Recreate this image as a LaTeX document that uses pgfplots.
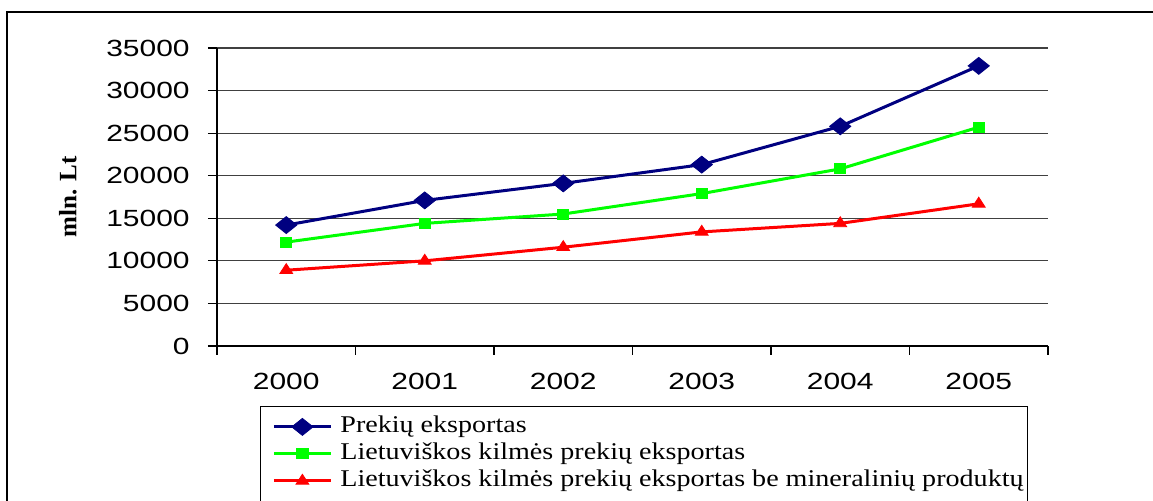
\documentclass[border=0pt]{standalone}
\usepackage{fontspec}
\usepackage{pgfplots}
\pgfplotsset{compat=1.18}
\setmainfont{Liberation Serif}[FakeStretch=1.17]
\newfontfamily\arialS{Liberation Sans}[FakeStretch=1.28]
\newfontfamily\timesU{Liberation Serif}
\definecolor{navyc}{RGB}{0,0,128}
\definecolor{greenc}{RGB}{0,255,0}
\definecolor{redc}{RGB}{255,0,0}
\begin{document}
\begin{tikzpicture}
\useasboundingbox (0pt,0pt) rectangle (576.5pt,250.5pt);
\begin{scope}
\clip (0pt,0pt) rectangle (576.5pt,250.5pt);
\begin{axis}[
  at={(108.5pt,77.5pt)}, anchor=south west,
  scale only axis, width=415.5pt, height=149pt,
  xmin=-0.5, xmax=5.5, ymin=0, ymax=35000,
  axis x line=bottom, axis y line=left,
  axis line style={-, line width=0.6pt, black},
  xtick={-0.5,0.5,1.5,2.5,3.5,4.5,5.5}, xticklabels={},
  extra x ticks={0,1,2,3,4,5},
  extra x tick labels={2000,2001,2002,2003,2004,2005},
  extra x tick style={tick style={draw=none}},
  ytick={0,5000,10000,15000,20000,25000,30000,35000},
  yticklabels={0,5000,10000,15000,20000,25000,30000,35000},
  scaled y ticks=false,
  tick align=outside, major tick length=4.5pt,
  tick style={black, line width=0.6pt},
  ymajorgrids, grid style={black!75, line width=0.6pt},
  ticklabel style={font=\arialS\fontsize{11.7}{14}\selectfont},
  xticklabel style={inner sep=0pt, anchor=north, yshift=-9pt},
  yticklabel style={inner sep=0pt, anchor=east, xshift=-9pt},
  ylabel={mln. Lt},
  ylabel style={at={(axis description cs:-0.1793,0.5)}, anchor=center, rotate=0, font=\timesU\bfseries\fontsize{12.5}{14}\selectfont},
  legend style={at={(axis description cs:0.05174,-0.2047)}, anchor=north west,
    draw=none, fill=none, inner xsep=6pt, inner ysep=3pt,
    font=\fontsize{12}{14}\selectfont, row sep=0pt, column sep=4pt,
    nodes={inner sep=0pt, text height=9.5pt, text depth=4pt}},
  legend cell align=left,
  legend image code/.code={\draw[mark repeat=2,mark phase=2] plot coordinates {(0pt,0pt)(14.25pt,0pt)(28.5pt,0pt)};},
]
\addplot[color=navyc, line width=1.5pt, mark=square*, mark size=3pt,
  mark options={xscale=1.25, rotate=45, line width=0.4pt, fill=navyc}]
  coordinates {(0,14200)(1,17100)(2,19100)(3,21300)(4,25800)(5,32900)};
\addlegendentry{Prekių eksportas}
\addplot[color=greenc, line width=1.5pt, mark=square*, mark size=2.5pt,
  mark options={xscale=1.12, line width=0.4pt, fill=greenc}]
  coordinates {(0,12200)(1,14400)(2,15500)(3,17900)(4,20800)(5,25700)};
\addlegendentry{Lietuviškos kilmės prekių eksportas}
\addplot[color=redc, line width=1.5pt, mark=triangle*, mark size=3.3pt,
  mark options={xscale=1.12, line width=0.4pt, fill=redc}]
  coordinates {(0,8900)(1,10000)(2,11600)(3,13400)(4,14400)(5,16700)};
\addlegendentry{Lietuviškos kilmės prekių eksportas be mineralinių produktų}
\end{axis}
\draw[line width=0.5pt] (130pt,-5pt) rectangle (513.5pt,47pt);
\draw[line width=0.8pt] (3.5pt,-5pt) -- (3.5pt,244.5pt) -- (580pt,244.5pt);
\end{scope}
\end{tikzpicture}
\end{document}
